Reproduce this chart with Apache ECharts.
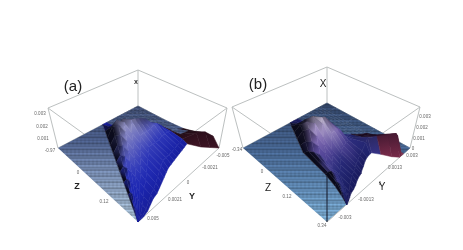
<!DOCTYPE html>
<html><head><meta charset="utf-8">
<style>html,body{margin:0;padding:0;background:#fff}#main{width:463px;height:250px;filter:blur(0.45px)}</style>
<script src="https://cdn.jsdelivr.net/npm/echarts@6/dist/echarts.min.js"></script>
</head><body><div id="main"></div>
<script>
// ---------- values ----------
// fraction of each row's Z span at which a height is read
const zCols   = [0,.125,.25,.375,.5,.625,.75,.93,1];
// panel (a): for each Y row, the Z span of the sheet and the X height across it
const yRowsA  = [0,.05,.1,.15,.2,.25,.3,.35,.4,.45,.5,.55,.6,.65,.7,.75,.8,.85,.9,.95,1];
const zStartA = [1,.9,.8,.7,.6,.5,.4,.3,.2,.1,0,0,0,0,0,0,0,0,0,0,0];
const zEndA   = [1,1,.99,.97,.95,.94,.92,.9,.88,.86,.84,.83,.82,.81,.8,.79,.78,.77,.88,.94,1];
const heightA = [
 [0,0,0,0,0,0,0,0,0],
 [0,.03,.04,.04,.04,.03,.02,.01,0],
 [0,.08,.09,.09,.08,.06,.04,.02,0],
 [0,.14,.15,.14,.12,.09,.06,.03,0],
 [0,.2,.22,.2,.17,.13,.08,.04,0],
 [0,.26,.3,.27,.22,.17,.11,.05,0],
 [0,.3,.38,.34,.27,.2,.13,.06,0],
 [0,.34,.46,.4,.31,.23,.15,.07,0],
 [0,.38,.54,.47,.36,.26,.17,.08,0],
 [0,.2,.5,.56,.41,.29,.18,.08,0],
 [0,.06,.22,.5,.6,.34,.2,.09,0],
 [0,.03,.12,.42,.56,.34,.2,.08,0],
 [0,.02,.08,.32,.5,.3,.16,.06,0],
 [0,.02,.06,.24,.44,.3,.15,.05,0],
 [0,.01,.04,.14,.36,.34,.17,.05,0],
 [0,.01,.02,.07,.22,.3,.16,.05,0],
 [0,.01,.01,.03,.1,.2,.13,.04,0],
 [0,0,.01,.01,.04,.09,.09,.05,0],
 [0,0,0,0,.01,.02,.04,.27,0],
 [0,0,0,0,.01,.03,.12,.3,0],
 [0,0,0,0,.01,.03,.1,.2,0]
];
// panel (b)
const yRowsB  = [.19,.22,.25,.28,.32,.36,.4,.44,.48,.505,.55,.6,.65,.7,.72,.76,.8,.84,.87,.9,1];
const zStartB = [1,.92,.83,.7,.4,.314,.227,.14,.05,0,0,0,0,0,0,0,0,0,0,0,0];
const zEndB   = [1,.99,.975,.96,.95,.935,.915,.9,.89,.875,.855,.83,.812,.805,.805,.87,.95,1,1,1,1];
const heightB = [
 [0,0,0,0,0,0,0,0,0],
 [0,.06,.08,.08,.07,.05,.03,.01,0],
 [0,.1,.12,.12,.1,.08,.05,.02,0],
 [0,.1,.17,.16,.13,.1,.06,.03,0],
 [0,.12,.2,.24,.2,.15,.09,.04,0],
 [0,.2,.3,.3,.24,.17,.1,.05,0],
 [0,.3,.46,.4,.3,.19,.11,.05,0],
 [0,.3,.5,.58,.36,.2,.12,.05,0],
 [0,.18,.42,.62,.58,.3,.14,.05,0],
 [0,.1,.3,.55,.66,.4,.17,.06,0],
 [0,.05,.16,.38,.6,.4,.18,.06,0],
 [0,.03,.09,.22,.45,.36,.17,.06,0],
 [0,.02,.05,.15,.3,.26,.13,.07,0],
 [0,.01,.02,.03,.05,.07,.1,.2,0],
 [0,.01,.02,.03,.05,.05,.1,.28,0],
 [0,.01,.02,.03,.04,.06,.14,.35,0],
 [0,0,.01,.02,.04,.07,.18,.43,0],
 [0,0,.01,.02,.04,.07,.2,.47,0],
 [0,0,0,.01,.03,.05,.14,.38,0],
 [0,0,0,0,0,0,0,0,0],
 [0,0,0,0,0,0,0,0,0]
];
// tick labels
const xTicksA = ['0.003','0.002','0.001','-0.97'];
const zTicksA = ['0','0.12'];
const yTicksA = ['0.005','0.0021','0','-0.0021','-0.005'];
const xTicksB = ['0.003','0.002','0.001','0'];
const zTicksB = ['-0.34','0','0.12','0.34'];
const yTicksB = ['-0.003','-0.0013','0','0.0013','0.003'];

// ---------- projection of the 3D box onto the page ----------
function quadMap(P){ // P: corners at (u,v) = (0,0),(1,0),(1,1),(0,1)
  const [p0,p1,p2,p3]=P;
  const dx1=p1[0]-p2[0],dx2=p3[0]-p2[0],dy1=p1[1]-p2[1],dy2=p3[1]-p2[1];
  const sx=p0[0]-p1[0]+p2[0]-p3[0],sy=p0[1]-p1[1]+p2[1]-p3[1];
  const det=dx1*dy2-dx2*dy1,g=(sx*dy2-dx2*sy)/det,h=(dx1*sy-sx*dy1)/det;
  const a=p1[0]-p0[0]+g*p1[0],b=p3[0]-p0[0]+h*p3[0],d=p1[1]-p0[1]+g*p1[1],e=p3[1]-p0[1]+h*p3[1];
  return (u,v)=>{const w=g*u+h*v+1;return [(a*u+b*v+p0[0])/w,(d*u+e*v+p0[1])/w];};
}
function makePanel(floor,top,rows,starts,ends,heights,name,stops,maroon,floorStops,wingFrom,wingMin){
  const fm=quadMap(floor),tm=quadMap(top);
  return {floor,top,rows,starts,ends,heights,name,stops,maroon,floorStops,wingFrom,wingMin,
    at(u,v,h){const f=fm(u,v),t=tm(u,v);return [f[0]+(t[0]-f[0])*h,f[1]+(t[1]-f[1])*h];}};
}
const panelA=makePanel([[58,148],[138,222],[219,148],[138,106]],[[48,108],[138,173],[227,108],[138,70]],
  yRowsA,zStartA,zEndA,heightA,'a',
  [[0,[22,28,150]],[.1,[28,38,178]],[.2,[45,55,185]],[.3,[85,90,190]],[.45,[135,135,195]],[.6,[165,165,190]]],
  [[60,20,35],[30,10,20]],
  [[106,[58,72,108]],[140,[72,90,132]],[170,[112,132,168]],[222,[160,182,200]]],.86,.06);
const panelB=makePanel([[243,148],[327,222],[410,148],[327,103]],[[232,107],[327,172],[420,107],[327,67]],
  yRowsB,zStartB,zEndB,heightB,'b',
  [[0,[22,22,85]],[.08,[30,35,110]],[.15,[50,48,130]],[.28,[105,85,165]],[.42,[150,130,190]],[.55,[185,175,205]],[.68,[225,225,215]]],
  [[118,42,72],[25,10,30]],
  [[103,[48,66,100]],[150,[68,98,140]],[190,[92,132,172]],[222,[118,165,200]]],.74,.08);

function ramp(st,x){
  if(x<=st[0][0])return st[0][1];
  for(let i=1;i<st.length;i++)if(x<=st[i][0]){
    const t=(x-st[i-1][0])/(st[i][0]-st[i-1][0]);
    return st[i-1][1].map((c,k)=>c+(st[i][1][k]-c)*t);
  }
  return st[st.length-1][1];
}
const css=c=>`rgb(${Math.round(c[0])},${Math.round(c[1])},${Math.round(c[2])})`;
const mix=(a,b,t)=>a.map((c,k)=>c+(b[k]-c)*t);

function floorPattern(p){
  const cv=document.createElement('canvas');cv.width=463;cv.height=250;
  const g=cv.getContext('2d');
  for(let y=0;y<250;y++){
    const base=ramp(p.floorStops,y);
    const k=1+.09*Math.sin(y*2.1)+.07*Math.sin(y*5.3+1);
    for(let x=0;x<463;x+=2){
      const q=k+.035*Math.sin(x*1.57+y*.3);
      g.fillStyle=css(base.map(c=>Math.min(255,c*q)));
      g.fillRect(x,y,2,1);
    }
  }
  return {image:cv,repeat:'repeat'};
}
panelA.tex=floorPattern(panelA);panelB.tex=floorPattern(panelB);

const uOf=(p,i,c)=>p.starts[i]+(p.ends[i]-p.starts[i])*c;
function cells(p){
  const out=[];
  for(let i=0;i<p.rows.length-1;i++)for(let j=0;j<8;j++){
    const c=(zCols[j]+zCols[j+1])/2,v=(p.rows[i]+p.rows[i+1])/2;
    out.push({i,j,key:(uOf(p,i,c)+uOf(p,i+1,c))/2-v});
  }
  out.sort((a,b)=>a.key-b.key);
  return out;
}
// returns null for a flat cell (drawn with the floor texture) or an [r,g,b]
function cellColor(p,i,j){
  const H=p.heights,r=p.rows,s=p.starts,e=p.ends;
  const h=(H[i][j]+H[i][j+1]+H[i+1][j]+H[i+1][j+1])/4;
  const dc=zCols[j+1]-zCols[j];
  const du=Math.max(.012,((e[i]-s[i])+(e[i+1]-s[i+1]))/2*dc);
  const dh=((H[i][j+1]-H[i][j])+(H[i+1][j+1]-H[i+1][j]))/2;
  const sU=dh/du, v=(r[i]+r[i+1])/2;
  if(h<.025&&Math.abs(sU)<.35&&v>.45)return null;
  if(v>.62&&h<.06&&Math.abs(sU)<.8)return null;
  if(v>p.wingFrom){
    if(h<p.wingMin)return null;
    return sU<-.2?p.maroon[0]:mix(p.maroon[0],p.maroon[1],Math.min(1,.55+Math.max(0,sU)));
  }
  let col=ramp(p.stops,h);
  if(sU>.9)col=mix(col,[8,8,20],Math.min(.95,(sU-.5)/1.3));
  return col;
}
function surfaceSeries(p){
  const items=cells(p);
  return {type:'custom',coordinateSystem:'cartesian2d',silent:true,animation:false,clip:false,
    data:items.map((c,n)=>[n,c.i,c.j]),
    renderItem(params,api){
      const c=items[params.dataIndex],i=c.i,j=c.j;
      const pt=(a,b)=>api.coord(p.at(uOf(p,a,zCols[b]),p.rows[a],p.heights[a][b]));
      const P=[pt(i,j),pt(i,j+1),pt(i+1,j+1),pt(i+1,j)];
      const me=cellColor(p,i,j);
      let f=p.tex;
      if(me){
        const prev=j>0&&cellColor(p,i,j-1),next=j<7&&cellColor(p,i,j+1);
        const c0=prev?mix(me,prev,.5):me,c1=next?mix(me,next,.5):me;
        f=new echarts.graphic.LinearGradient((P[0][0]+P[3][0])/2,(P[0][1]+P[3][1])/2,
          (P[1][0]+P[2][0])/2,(P[1][1]+P[2][1])/2,
          [{offset:0,color:css(c0)},{offset:1,color:css(c1)}],true);
      }
      return {type:'polygon',shape:{points:P},style:{fill:f,stroke:f,lineWidth:.5}};
    }};
}
// flat floor left of the sheet: follows the sheet's first column down to the Z=1 edge
function floorSeries(p){
  const corners=[[0,0]];
  for(let i=p.rows.length-1;i>=0;i--)if(p.starts[i]>0||p.starts[i-1]>0)corners.push([p.starts[i],p.rows[i]]);
  corners.push([1,0]);
  return {type:'custom',coordinateSystem:'cartesian2d',silent:true,animation:false,clip:false,data:[[0]],
    renderItem(params,api){
      return {type:'polygon',shape:{points:corners.map(c=>api.coord(p.at(c[0],c[1],0)))},style:{fill:p.tex}};
    }};
}
function edgeSeries(segs,color,width){
  return {type:'custom',coordinateSystem:'cartesian2d',silent:true,animation:false,clip:false,
    data:segs.map((s,n)=>[n]),
    renderItem(params,api){
      const s=segs[params.dataIndex],a=api.coord(s[0]),b=api.coord(s[1]);
      return {type:'line',shape:{x1:a[0],y1:a[1],x2:b[0],y2:b[1]},style:{stroke:color,lineWidth:width}};
    }};
}
function textSeries(list){
  return {type:'custom',coordinateSystem:'cartesian2d',silent:true,animation:false,clip:false,
    data:list.map((s,n)=>[n]),
    renderItem(params,api){
      const s=list[params.dataIndex],a=api.coord([s.x,s.y]);
      return {type:'text',style:{text:s.text,x:a[0],y:a[1],fill:s.color||'#666',
        font:`${s.bold?'bold ':''}${s.size}px "Liberation Sans"`,textAlign:'center',textVerticalAlign:'middle'}};
    }};
}
function boxEdges(p){
  const [L,F,R,B]=p.floor,[TL,TF,TR,TB]=p.top;
  return [[L,TL],[R,TR],[B,TB],[TL,TB],[TB,TR],[TL,TF],[TR,TF],[L,B],[B,R]];
}
function tickLabels(){
  const t=[];
  xTicksA.forEach((s,n)=>t.push({text:s,x:[40,42,43,50][n],y:[114,127,139,151][n],size:4.5}));
  xTicksB.forEach((s,n)=>t.push({text:s,x:[425,422,419,413][n],y:[117,128,139,149][n],size:4.5}));
  zTicksA.forEach((s,n)=>t.push({text:s,x:[78,104][n],y:[173,202][n],size:4.5}));
  zTicksB.forEach((s,n)=>t.push({text:s,x:[237,262,287,322][n],y:[150,172,197,226][n],size:4.5}));
  yTicksA.forEach((s,n)=>t.push({text:s,x:[153,175,188,210,223][n],y:[219,200,183,168,156][n],size:4.5}));
  yTicksB.forEach((s,n)=>t.push({text:s,x:[345,366,380,395,412][n],y:[218,200,184,168,156][n],size:4.5}));
  return t;
}
const labels=[
 {text:'(a)',x:73,y:87,size:15,color:'#222'},{text:'(b)',x:258,y:85,size:15,color:'#222'},
 {text:'x',x:136,y:82,size:7,bold:true,color:'#333'},{text:'X',x:323,y:84,size:10,color:'#222'},
 {text:'Z',x:77,y:187,size:9,bold:true,color:'#222'},{text:'Y',x:192,y:197,size:9,bold:true,color:'#222'},
 {text:'Z',x:268,y:188,size:10,color:'#222'},{text:'Y',x:382,y:187,size:10,color:'#222'}
];

const chart=echarts.init(document.getElementById('main'),null,{renderer:'canvas'});
chart.setOption({
  animation:false,backgroundColor:'#fff',
  grid:{left:0,top:0,width:463,height:250},
  xAxis:{type:'value',min:0,max:463,show:false},
  yAxis:{type:'value',min:0,max:250,inverse:true,show:false},
  series:[
    edgeSeries(boxEdges(panelA).concat(boxEdges(panelB)),'#bcc0c0',1),
    floorSeries(panelA),
    floorSeries(panelB),
    edgeSeries([[panelA.floor[1],panelA.floor[2]],[panelB.floor[1],panelB.floor[2]]],'#bcc0c0',1),
    surfaceSeries(panelA),
    surfaceSeries(panelB),
    edgeSeries([[panelB.floor[1],[327,176]]],'#15182a',1),
    textSeries(tickLabels()),
    textSeries(labels)
  ]
});
</script></body></html>
